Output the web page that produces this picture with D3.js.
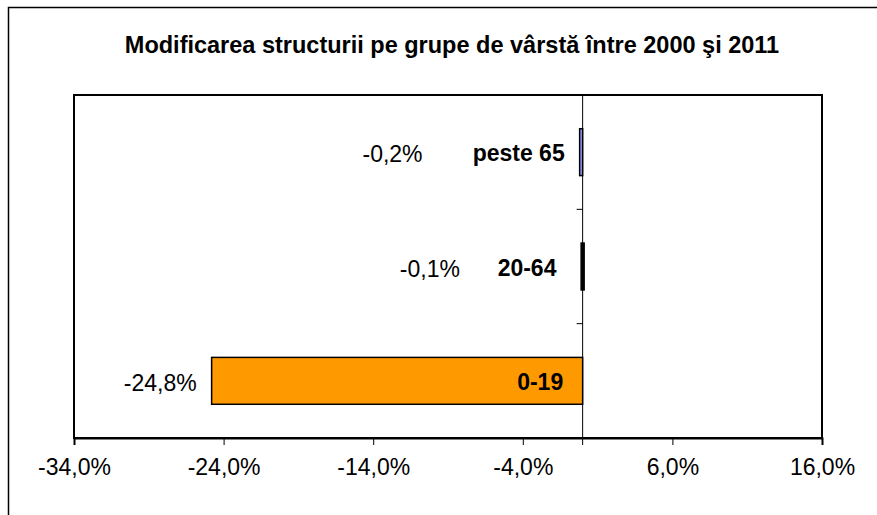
<!DOCTYPE html>
<html>
<head>
<meta charset="utf-8">
<script src="https://cdn.jsdelivr.net/npm/d3@7"></script>
<style>
  body { margin: 0; background: #fff; }
  svg { display: block; font-family: "Liberation Sans", Arial, sans-serif; }
</style>
</head>
<body>
<svg class="chart" width="877" height="515"></svg>
<script>
// data
let title = "Modificarea structurii pe grupe de vârstă între 2000 şi 2011";
let groups = ["0-19", "20-64", "peste 65"];
let changes = [-24.8, -0.1, -0.2];
let barColors = ["#FF9900", "#000000", "#9999FF"];
let xTicks = [-34, -24, -14, -4, 6, 16];

let svg = d3.select("svg.chart"),
    margin = {top: 95, bottom: 77, left: 74, right: 55},
    width = svg.attr("width") - margin.left - margin.right,
    height = svg.attr("height") - margin.top - margin.bottom;

let roLocale = d3.formatLocale({decimal: ",", thousands: ".", grouping: [3], currency: ["", ""], minus: "-"});
let fmt = v => roLocale.format(".1f")(v) + "%";

// outer frame (cropped on right and bottom)
svg.append("path")
    .attr("d", "M8.5,515 V7.5 H877")
    .attr("fill", "none")
    .attr("stroke", "#000")
    .attr("stroke-width", 1.5);

// title
svg.append("text")
    .attr("x", 452)
    .attr("y", 53)
    .attr("text-anchor", "middle")
    .attr("font-weight", "bold")
    .attr("font-size", "23.5px")
    .text(title);

let g = svg.append("g")
    .attr("transform", "translate(" + margin.left + "," + margin.top + ")");

let xScale = d3.scaleLinear()
    .domain([-34, 16])
    .range([0, width]);
let yScale = d3.scaleBand()
    .domain(groups.slice().reverse())
    .range([0, height])
    .paddingInner(0.59)
    .paddingOuter(0.295);

let data = groups.map((d, i) => ({group: d, value: changes[i], color: barColors[i]}));

// plot frame
g.append("rect")
    .attr("x", 0)
    .attr("y", 0)
    .attr("width", width)
    .attr("height", height)
    .attr("fill", "none")
    .attr("stroke", "#000")
    .attr("stroke-width", 2);

// x axis
let xAxis = g.append("g")
    .attr("transform", "translate(0," + height + ")")
    .call(d3.axisBottom(xScale).tickValues(xTicks).tickSize(7).tickFormat(fmt));
xAxis.select(".domain").attr("stroke-width", 2);
xAxis.selectAll("text")
    .attr("font-family", "Liberation Sans, Arial, sans-serif")
    .attr("font-size", "23px")
    .attr("fill", "#000")
    .attr("y", 37)
    .attr("dy", 0);

// zero axis with category ticks
let step = yScale.step();
let zero = g.append("g")
    .attr("transform", "translate(" + xScale(0) + ",0)");
zero.append("line")
    .attr("y1", 0)
    .attr("y2", height + 7)
    .attr("stroke", "#000");
zero.selectAll(".cat-tick")
    .data(groups.slice(1))
    .join("line")
    .attr("class", "cat-tick")
    .attr("x1", -6)
    .attr("x2", 0)
    .attr("y1", d => yScale(d) + yScale.bandwidth() + (step - yScale.bandwidth()) / 2)
    .attr("y2", d => yScale(d) + yScale.bandwidth() + (step - yScale.bandwidth()) / 2)
    .attr("stroke", "#000");

// bars
g.selectAll(".bar")
    .data(data)
    .join("rect")
    .attr("class", "bar")
    .attr("x", d => xScale(Math.min(0, d.value)))
    .attr("y", d => yScale(d.group))
    .attr("width", d => Math.max(3, Math.abs(xScale(d.value) - xScale(0))))
    .attr("height", d => yScale.bandwidth())
    .attr("fill", d => d.color)
    .attr("stroke", "#000")
    .attr("stroke-width", 1.5);

// value labels (Excel placed them at odd spots)
let valueLabelAt = {"0-19": -25.8, "20-64": -8.2, "peste 65": -10.7};
g.selectAll(".val")
    .data(data)
    .join("text")
    .attr("class", "val")
    .attr("x", d => xScale(valueLabelAt[d.group]))
    .attr("y", d => yScale(d.group) + yScale.bandwidth() / 2 + 10)
    .attr("text-anchor", "end")
    .attr("font-size", "23px")
    .text(d => fmt(d.value));

// category labels
let catLabelAt = {"0-19": -1.3, "20-64": -1.75, "peste 65": -1.2};
g.selectAll(".cat")
    .data(data)
    .join("text")
    .attr("class", "cat")
    .attr("x", d => xScale(catLabelAt[d.group]))
    .attr("y", d => yScale(d.group) + yScale.bandwidth() / 2 + 9)
    .attr("text-anchor", "end")
    .attr("font-weight", "bold")
    .attr("font-size", "23px")
    .text(d => d.group);
</script>
</body>
</html>
